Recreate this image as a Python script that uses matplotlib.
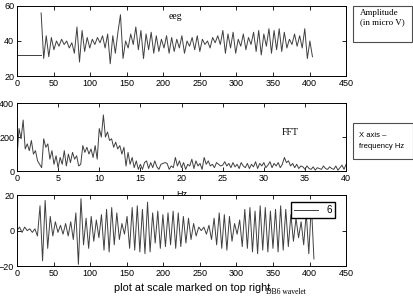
import numpy as np
import matplotlib
matplotlib.use("Agg")
import matplotlib.pyplot as plt
from matplotlib.patches import Rectangle

# raw eeg trace (flat baseline then samples every 3.5 units)
eeg_flat_x = [0, 33]
eeg_flat_y = [32, 32]
eeg_y = [56, 30, 43, 31, 42, 35, 40, 37, 41, 38,
         40, 36, 39, 33, 48, 28, 46, 34, 42, 36,
         41, 38, 42, 39, 43, 36, 44, 27, 43, 33,
         45, 55, 30, 40, 36, 44, 38, 48, 35, 46,
         30, 44, 35, 45, 33, 43, 34, 41, 36, 43,
         33, 42, 34, 41, 36, 43, 33, 40, 37, 42,
         35, 43, 34, 41, 38, 40, 36, 42, 39, 43,
         38, 46, 33, 44, 36, 45, 33, 41, 37, 44,
         35, 42, 38, 45, 34, 46, 32, 44, 37, 47,
         33, 46, 35, 47, 34, 45, 36, 41, 38, 44,
         37, 43, 36, 47, 30, 40, 31]

# fft magnitude, 0..40 Hz in 0.25 Hz steps
fft_mag = [80, 250, 190, 300, 130, 160, 120, 180, 100, 120,
           60, 40, 20, 190, 140, 160, 70, 120, 40, 90,
           20, 80, 40, 120, 30, 100, 50, 110, 70, 90,
           30, 40, 150, 110, 140, 100, 130, 80, 150, 70,
           250, 200, 330, 200, 230, 180, 190, 140, 170, 130,
           150, 100, 140, 30, 110, 40, 80, 20, 60, 10,
           40, 10, 50, 60, 15, 50, 20, 60, 25, 10,
           40, 45, 50, 45, 10, 30, 20, 80, 30, 60,
           20, 50, 10, 40, 30, 70, 15, 60, 30, 45,
           10, 80, 40, 60, 30, 40, 20, 50, 40, 30,
           35, 55, 30, 45, 20, 50, 25, 40, 15, 50,
           30, 20, 45, 15, 40, 25, 55, 15, 45, 30,
           50, 20, 35, 55, 20, 45, 30, 50, 20, 40,
           80, 50, 60, 30, 45, 20, 40, 15, 30, 25,
           10, 30, 15, 10, 25, 5, 20, 15, 10, 30,
           15, 10, 25, 15, 10, 30, 5, 20, 35, 10,
           40]

# db6 wavelet detail level 6
wav_y = [0, 2, -1, 2, 0, 1, -1, 1, -3, 14,
         -17, 17, -10, 8, -3, 5, -1, 3, -2, 4,
         -3, 5, -5, 10, -19, 18, -8, 7, -10, 8,
         -6, 6, -4, 9, -11, 12, -12, 13, -8, 10,
         -5, 4, -2, 8, -10, 13, -11, 14, -12, 12,
         -13, 16, -12, 10, -7, 11, -10, 9, -9, 10,
         -8, 11, -10, 10, -9, 8, -7, 7, -5, 4,
         -3, 2, 0, 2, -2, 3, -5, 7, -8, 10,
         -10, 9, -11, 8, -6, 4, -2, 6, -9, 12,
         -10, 13, -12, 11, -13, 14, -11, 13, -12, 11,
         -10, 12, -12, 14, -11, 12, -9, 9, -6, 7,
         -4, 5, -8, 10, -13, 15, -16]

eeg_x = 33 + 3.5 * np.arange(len(eeg_y))
fft_x = np.linspace(0, 40, len(fft_mag))
wav_x = 3.5 * np.arange(len(wav_y))

plt.rc('font', size=6.5, family='Liberation Sans')
lc = '0.25'
lw = 0.7

W, H = 414.0, 297.0
fig = plt.figure(figsize=(W / 100, H / 100), dpi=100)
ax1 = fig.add_axes([0.041, 0.744, 0.795, 0.236])
ax2 = fig.add_axes([0.041, 0.424, 0.795, 0.229])
ax3 = fig.add_axes([0.041, 0.104, 0.795, 0.239])

ax1.plot(eeg_flat_x, eeg_flat_y, color=lc, lw=lw)
ax1.plot(eeg_x, eeg_y, color=lc, lw=lw)
ax1.set_xlim(0, 450)
ax1.set_ylim(20, 60)
ax1.set_xticks(range(0, 451, 50))
ax1.set_yticks([20, 40, 60])
ax1.text(216, 54, "eeg", family='Liberation Serif', fontsize=7, ha='center', va='center')

ax2.plot(fft_x, fft_mag, color=lc, lw=lw)
ax2.set_xlim(0, 40)
ax2.set_ylim(0, 400)
ax2.set_xticks(range(0, 41, 5))
ax2.set_yticks([0, 200, 400])
ax2.set_xlabel("Hz", labelpad=5)
ax2.text(33.2, 225, "FFT", family='Liberation Serif', fontsize=7, ha='center', va='center')

ax3.plot(wav_x, wav_y, color=lc, lw=lw, label="6")
ax3.set_xlim(0, 450)
ax3.set_ylim(-20, 20)
ax3.set_xticks(range(0, 451, 50))
ax3.set_yticks([-20, 0, 20])
ax3.legend(loc='upper right', bbox_to_anchor=(0.98, 0.97), fancybox=False,
           edgecolor='black', framealpha=1, handlelength=2.5, borderpad=0.3,
           fontsize=7)

for ax in (ax1, ax2, ax3):
    ax.tick_params(direction='in', top=True, right=True, length=3, width=0.6, pad=2)
    for s in ax.spines.values():
        s.set_linewidth(0.7)

# side note boxes (pixel boxes converted to figure fractions)
def box(x0, y0, x1, y1):
    fig.patches.append(Rectangle((x0 / W, 1 - y1 / H), (x1 - x0) / W, (y1 - y0) / H,
                                 transform=fig.transFigure, fill=False, ec='0.3', lw=0.8))

box(353, 6, 412, 42)
fig.text(360 / W, 1 - 9 / H, "Amplitude\n(in micro V)", family='Liberation Serif',
         fontsize=6.5, va='top', ha='left', linespacing=1.25)
box(353, 123, 413, 159)
fig.text(359 / W, 1 - 141 / H, "X axis \u2013\nfrequency Hz", fontsize=5.5,
         va='center', ha='left', linespacing=1.9)

fig.text(0.465, 0.03, "plot at scale marked on top right", fontsize=7.8, ha='center', va='center')
fig.text(0.69, 0.016, "DB6 wavelet", family='Liberation Serif', fontsize=5.5, ha='center', va='center')

fig.savefig("out.png", dpi=100)
